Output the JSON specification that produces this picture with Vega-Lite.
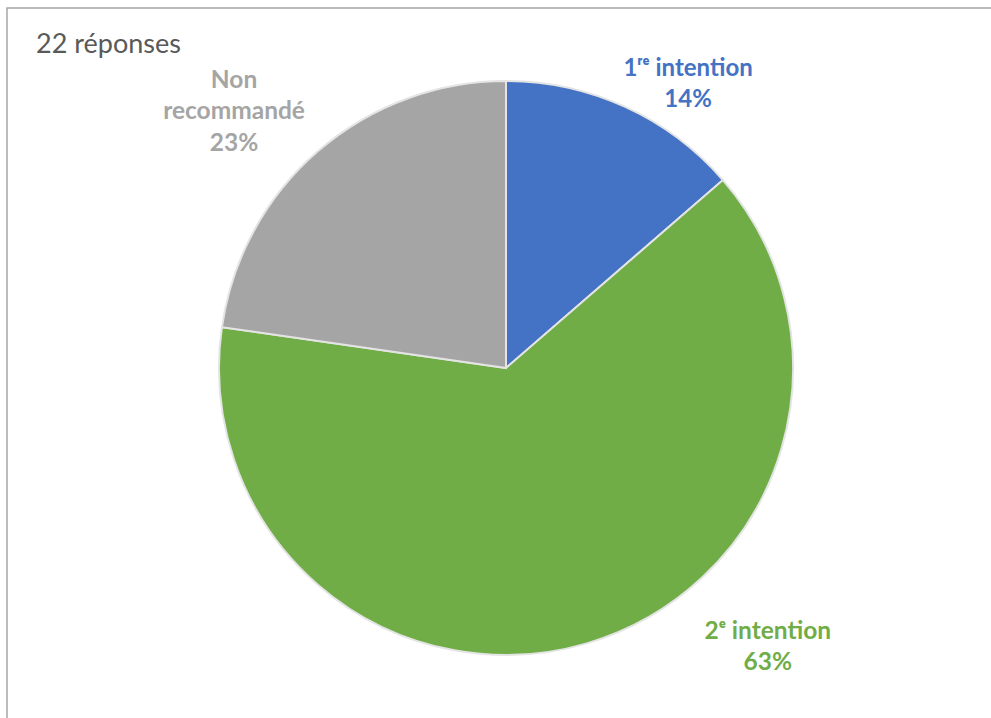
{
  "$schema": "https://vega.github.io/schema/vega-lite/v6.json",
  "width": 998,
  "height": 720,
  "autosize": {"type": "none"},
  "padding": {"left": 7, "top": 8, "right": 0, "bottom": 0},
  "background": "white",
  "view": {"stroke": "#a6a6a6", "strokeWidth": 1.5},
  "title": {
    "text": "22 réponses",
    "anchor": "start",
    "orient": "top",
    "frame": "group",
    "baseline": "alphabetic",
    "offset": -72,
    "dx": 29,
    "font": "Lato, DejaVu Sans",
    "fontSize": 27,
    "fontWeight": "normal",
    "color": "#595959"
  },
  "data": {
    "values": [
      {"cat": "1re intention", "n": 3, "label": "1ʳᵉ intention\n14%"},
      {"cat": "2e intention", "n": 14, "label": "2ᵉ intention\n63%"},
      {"cat": "Non recommandé", "n": 5, "label": "Non\nrecommandé\n23%"}
    ]
  },
  "encoding": {
    "theta": {"field": "n", "type": "quantitative", "stack": true},
    "color": {
      "field": "cat",
      "type": "nominal",
      "scale": {
        "domain": ["1re intention", "2e intention", "Non recommandé"],
        "range": ["#4472C4", "#70AD47", "#A5A5A5"]
      },
      "legend": null
    }
  },
  "layer": [
    {
      "mark": {"type": "arc", "radius": 287, "stroke": "#e4e4e4", "strokeWidth": 2}
    },
    {
      "mark": {"type": "text", "radius": 342, "dx": 40, "dy": 12, "font": "Lato, DejaVu Sans", "fontSize": 24, "fontWeight": "bold", "lineBreak": "\n", "lineHeight": 31.5, "align": "center", "baseline": "middle"},
      "encoding": {
        "text": {"condition": {"test": "datum.cat === '1re intention'", "field": "label"}, "value": ""}
      }
    },
    {
      "mark": {"type": "text", "radius": 276, "dx": 184, "dy": -1, "font": "Lato, DejaVu Sans", "fontSize": 24.5, "fontWeight": "bold", "lineBreak": "\n", "lineHeight": 31.5, "align": "center", "baseline": "middle"},
      "encoding": {
        "text": {"condition": {"test": "datum.cat === '2e intention'", "field": "label"}, "value": ""}
      }
    },
    {
      "mark": {"type": "text", "radius": 300, "dx": -75.5, "dy": -60.7, "font": "Lato, DejaVu Sans", "fontSize": 24.5, "fontWeight": "bold", "lineBreak": "\n", "lineHeight": 31.5, "align": "center", "baseline": "middle"},
      "encoding": {
        "text": {"condition": {"test": "datum.cat === 'Non recommandé'", "field": "label"}, "value": ""}
      }
    }
  ]
}
